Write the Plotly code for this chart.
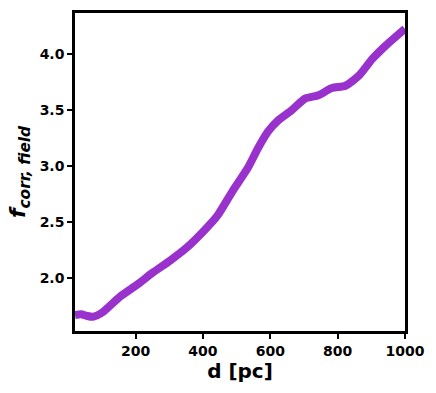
import plotly.graph_objects as go

d_pc = [20, 38, 55, 73, 103, 153, 203, 253, 303, 353, 403, 443, 488, 533, 563, 593,
        623, 663, 703, 743, 783, 823, 863, 903, 943, 1000]
f_corr = [1.673, 1.679, 1.665, 1.657, 1.70, 1.835, 1.94, 2.056, 2.16, 2.277, 2.425,
          2.56, 2.78, 2.985, 3.16, 3.31, 3.41, 3.50, 3.605, 3.635, 3.70, 3.72, 3.81,
          3.96, 4.08, 4.23]

FONT = "DejaVu Sans"

fig = go.Figure(go.Scatter(
    x=d_pc, y=f_corr, mode="lines",
    line=dict(color="#9932CC", width=8, shape="spline", smoothing=0.6),
    showlegend=False))

axis = dict(showgrid=False, zeroline=False, showline=True, mirror=True,
            linecolor="black", linewidth=2.5, ticks="outside", ticklen=5,
            tickwidth=1.5, tickcolor="black",
            tickfont=dict(family=FONT, size=14, color="black", weight="bold"))

fig.update_layout(
    width=436, height=393,
    margin=dict(l=75, r=31, t=10, b=62),
    plot_bgcolor="white", paper_bgcolor="white",
    xaxis=dict(axis, range=[20, 1000], tickvals=[200, 400, 600, 800, 1000],
               title=dict(text="<b>d [pc]</b>", standoff=6,
                          font=dict(family=FONT, size=20, color="black"))),
    yaxis=dict(axis, range=[1.53, 4.37], tickvals=[2.0, 2.5, 3.0, 3.5, 4.0],
               tickformat=".1f",
               title=dict(text="<b><i>f</i><sub><i>corr, field</i></sub></b>", standoff=8,
                          font=dict(family=FONT, size=22, color="black"))),
)

# page margin off so the figure sits at the window origin
fig.write_html("out.html", config={"displayModeBar": False},
               post_script="document.body.style.margin='0';")
